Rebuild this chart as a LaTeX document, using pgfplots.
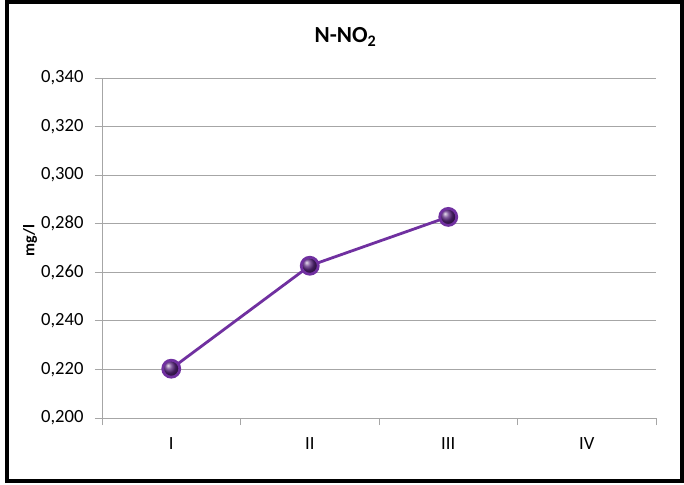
\documentclass[border=0pt]{standalone}
\usepackage{fontspec}
\setmainfont{Carlito}
\usepackage{pgfplots}
\pgfplotsset{compat=1.18}
\definecolor{linepurple}{HTML}{7030A0}
\definecolor{gridgray}{HTML}{A6A6A6}
\begin{document}
\begin{tikzpicture}[x=1pt,y=1pt]
\useasboundingbox (0,0) rectangle (684,484);
\fill[white] (0,0) rectangle (684,484);
\begin{axis}[
  at={(102pt,66pt)}, anchor=south west,
  scale only axis, width=554pt, height=340pt,
  xmin=-0.5, xmax=3.5, ymin=0.2, ymax=0.34,
  ytick={0.2,0.22,0.24,0.26,0.28,0.30,0.32,0.34},
  xtick={0,1,2,3}, xticklabels={I,II,III,IV},
  minor xtick={-0.5,0.5,1.5,2.5,3.5},
  major x tick style={draw=none},
  minor tick length=7pt, major tick length=7pt,
  tick align=outside,
  axis x line*=bottom, axis y line*=left,
  axis line style={gridgray, line width=0.9pt, -},
  every tick/.style={gridgray, line width=0.9pt},
  ymajorgrids, grid style={gridgray, line width=0.9pt},
  /pgf/number format/.cd, fixed, fixed zerofill, precision=3, use comma, assume math mode=true,
  /pgfplots/.cd,
  ticklabel style={font=\fontsize{18.6}{22}\selectfont, text=black},
  yticklabel style={xshift=-8pt},
  xticklabel style={yshift=-9pt},
  clip=false,
]
\addplot[linepurple, line width=2.8pt, mark=ball, mark size=8.5pt, mark options={ball color=linepurple!80!black}]
  coordinates {(0,0.2203) (1,0.2627) (2,0.2828)};
\end{axis}
\node[font=\bfseries\fontsize{23}{27}\selectfont, anchor=base] at (345.5,441) {N-NO\textsubscript{2}};
\node[font=\bfseries\fontsize{16}{19}\selectfont, rotate=90] at (30,243) {mg/l};
\draw[line width=4pt] (7,3.5) rectangle (682,481.5);
\end{tikzpicture}
\end{document}
